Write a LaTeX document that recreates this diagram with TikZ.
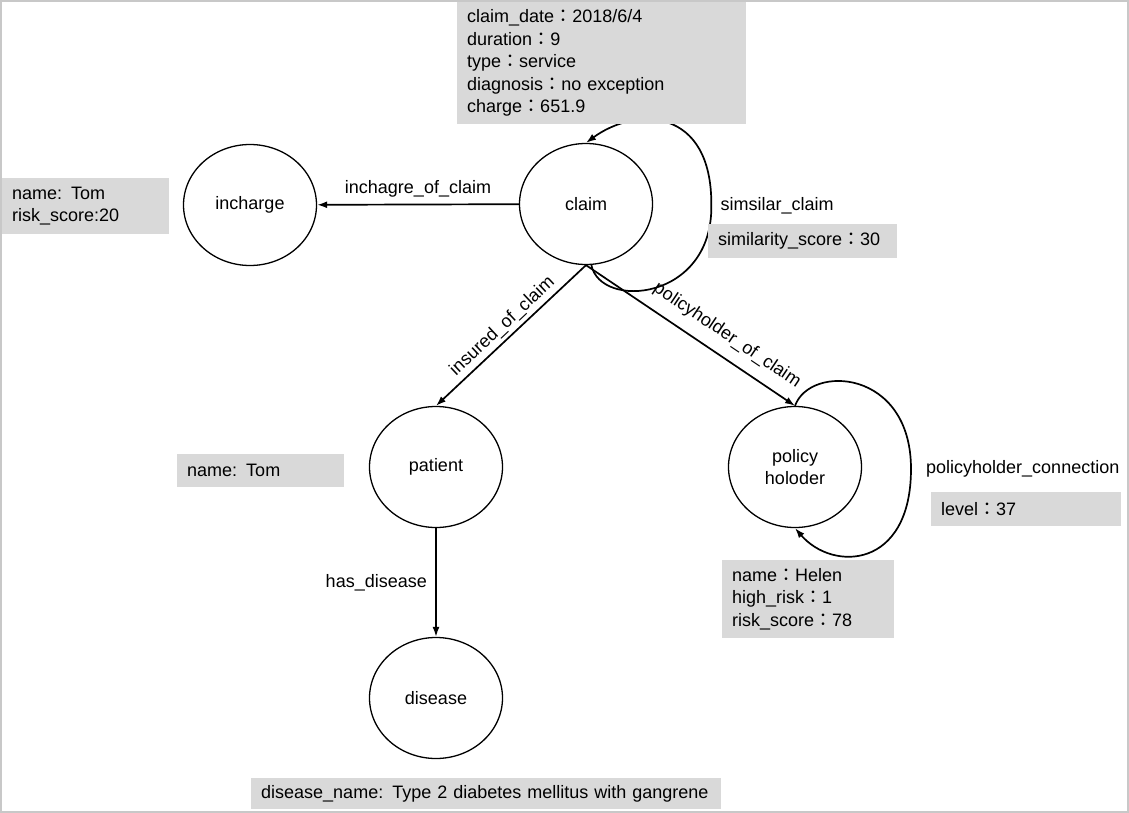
\documentclass[tikz,border=0pt]{standalone}
\usepackage{fontspec}
\setmainfont{Liberation Sans}
\newfontfamily\cjk{Noto Sans CJK TC}
\usepackage{xcolor}
\usepackage{tikz}
\usetikzlibrary{shapes.geometric, arrows.meta, positioning, calc}

\definecolor{attrgray}{RGB}{217,217,217}
\definecolor{framegray}{RGB}{200,200,200}
\newcommand{\fc}{{\cjk ：}}

\begin{document}
\begin{tikzpicture}[
    x=1pt, y=-1pt,
    font=\fontsize{18}{22.5}\selectfont,
    entity/.style={ellipse, draw, line width=1.3pt, minimum width=133pt, minimum height=121pt, align=center},
    attr/.style={fill=attrgray, anchor=north west, align=left, inner xsep=10pt, inner ysep=2pt},
    rel/.style={-{Latex[length=10pt, width=7pt]}, line width=1.7pt}
]
\useasboundingbox (0,0) rectangle (1129,813);

% entities
\node [entity] (claim) at (586,204) {claim};
\node [entity] (incharge) at (250,205) {incharge};
\node [entity] (patient) at (436,467) {patient};
\node [entity] (disease) at (436,698) {disease};
\node [entity] (holder) at (795,467) {policy\\holoder};

% relations
\draw [rel] (claim) -- node[above=3pt] {inchagre\_of\_claim} (incharge);
\draw [rel] (claim.south) -- node[sloped, above] {insured\_of\_claim} (patient.north);
\draw [rel] (claim.south) -- node[pos=0.62, sloped, above=8pt] {policyholder\_of\_claim} (holder.north);
\draw [rel] (patient) -- node[left=5pt] {has\_disease} (disease);
\draw [rel] (claim.-85) .. controls +(9,45) and +(1,95) .. ++(120,-59) node[right=5pt] {simsilar\_claim}
    .. controls +(1,-100) and +(49,-36) .. (claim.north);
\draw [rel] (holder.north) .. controls +(15,-42) and +(0,-100) .. ++(116,63) node[right=11pt] {policyholder\_connection}
    .. controls +(0,100) and +(38,44) .. (holder.south);

% attributes
\node [attr, text width=269pt, minimum height=122pt] (claimattr) at (457,2)
    {claim\_date\fc 2018/6/4\\duration\fc 9\\type\fc service\\diagnosis\fc no exception\\charge\fc 651.9};
\node [attr, text width=147pt, minimum height=56pt] (inchargeattr) at (2,178) {name: Tom\\risk\_score:20};
\node [attr, text width=169pt, minimum height=34pt] (simattr) at (708,224) {similarity\_score\fc 30};
\node [attr, text width=147pt, minimum height=33pt] (patientattr) at (177,454) {name: Tom};
\node [attr, text width=170pt, minimum height=34pt] (levelattr) at (931,492) {level\fc 37};
\node [attr, text width=152pt, minimum height=78pt] (holderattr) at (722,560) {name\fc Helen\\high\_risk\fc 1\\risk\_score\fc 78};
\node [attr, text width=450pt, minimum height=31pt] (diseaseattr) at (251,778) {disease\_name: Type 2 diabetes mellitus with gangrene};

\draw [framegray, line width=2pt] (1,1) rectangle (1128,812);
\end{tikzpicture}
\end{document}
